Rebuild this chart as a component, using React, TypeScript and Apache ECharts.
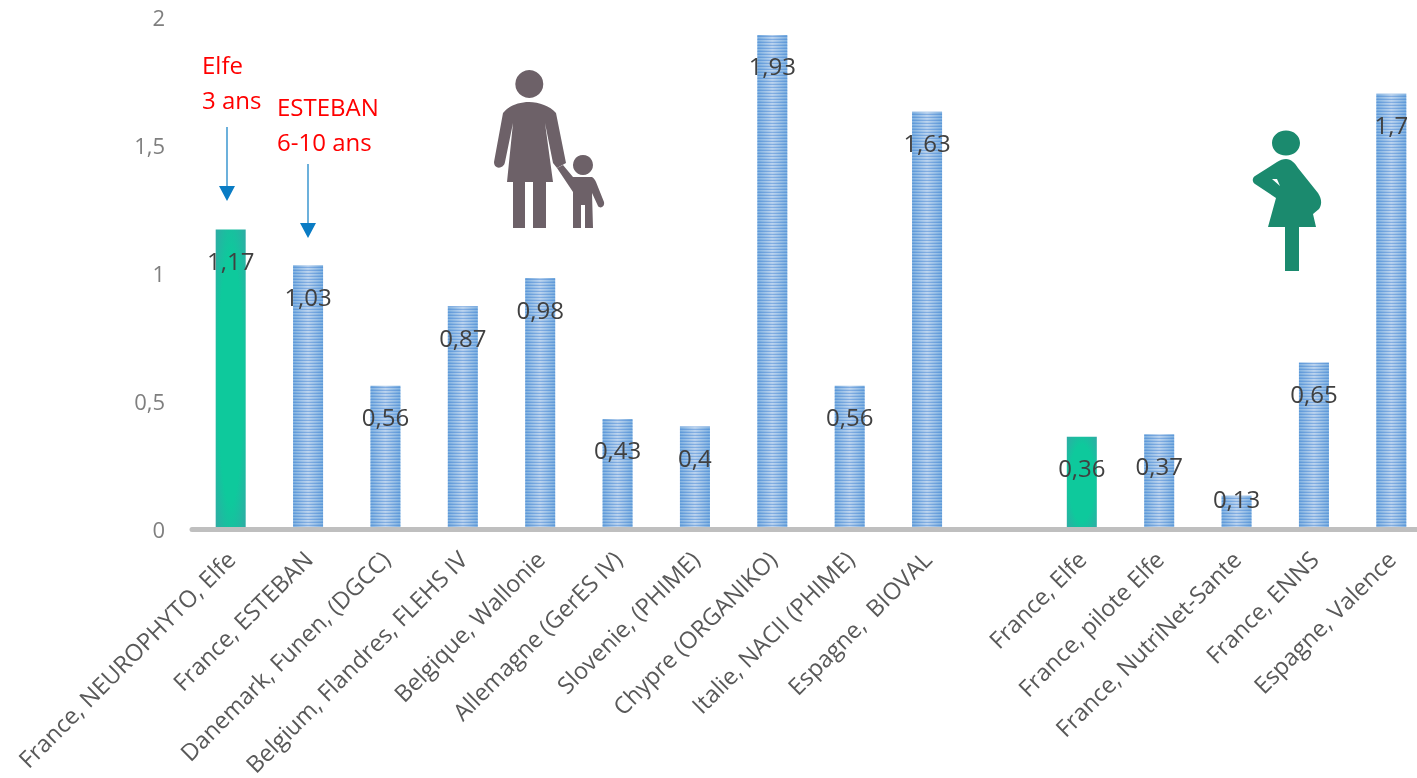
import React, { useEffect, useRef } from "react";
import * as echarts from "echarts";

const categories = [
  "France, NEUROPHYTO, Elfe", "France, ESTEBAN", "Danemark, Funen, (DGCC)", "Belgium, Flandres, FLEHS IV",
  "Belgique, Wallonie", "Allemagne (GerES IV)", "Slovenie, (PHIME)", "Chypre (ORGANIKO)", "Italie, NACII (PHIME)",
  "Espagne,  BIOVAL", "", "France, Elfe", "France, pilote Elfe", "France, NutriNet-Sante", "France, ENNS", "Espagne, Valence",
];
const values: (number | null)[] = [1.17, 1.03, 0.56, 0.87, 0.98, 0.43, 0.4, 1.93, 0.56, 1.63, null, 0.36, 0.37, 0.13, 0.65, 1.7];
const greenBars = [0, 11];
const yTicks = { min: 0, max: 2, interval: 0.5 };

const MOTHER = "M529.3 70a14 14 0 1 1-.01 0ZM529 102C539 102 550 106 556 113L566 163L557 168L553 163L545 123L553 182L546 182L546 228L533 228L533 182L525 182L525 228L513 228L513 182L507 182L513 123L505 162C504 169 494 170 494 162L503 113C508 106 519 102 529 102Z";
const CHILD = "M583 155a10 10 0 1 1-.01 0ZM557 168L563 165L573 177L592 177C594 178 595 180 596 182L604 202C605 207 600 209 598 206L592 193L593 228L585 228L585 205L581 205L581 228L573 228L573 192Z";
const PREGNANT = "M1286 130.500C1294 130.500 1300 136 1300 143C1300 150 1294 155.500 1286 155.500C1278 155.500 1272 150 1272 143C1272 136 1278 130.500 1286 130.500ZM1286 159C1291 159 1295 163 1298 168L1318 193C1322 199 1322 205 1319 209L1313 214L1316 227L1299 227L1299 271L1285 271L1285 227L1268 227L1276 198L1255 184C1252 182 1252 178 1255 176L1277 162C1280 160 1283 159 1286 159ZM1272 179L1280 186L1277 179Z";

function stripeTile(): HTMLCanvasElement {
  const c = document.createElement("canvas");
  c.width = 4;
  c.height = 3;
  const ctx = c.getContext("2d")!;
  ctx.fillStyle = "rgba(66,130,212,0.42)";
  ctx.fillRect(0, 0, 4, 1);
  ctx.fillStyle = "rgba(255,255,255,0.15)";
  ctx.fillRect(0, 1, 4, 1);
  return c;
}

export default function App() {
  const ref = useRef<HTMLDivElement>(null);
  useEffect(() => {
    echarts.graphic.registerShape("mother", echarts.graphic.extendPath(MOTHER, {}) as any);
    echarts.graphic.registerShape("child", echarts.graphic.extendPath(CHILD, {}) as any);
    echarts.graphic.registerShape("pregnant", echarts.graphic.extendPath(PREGNANT, {}) as any);
    const chart = echarts.init(ref.current!, undefined, { renderer: "svg" });
    const hGrad = (edge: string, mid: string) => ({
      type: "linear", x: 0, y: 0, x2: 1, y2: 0,
      colorStops: [{ offset: 0, color: edge }, { offset: 0.5, color: mid }, { offset: 1, color: edge }],
    });
    const rGrad = (edge: string, mid: string) => ({
      type: "radial", x: 0.5, y: 0.5, r: 0.75,
      colorStops: [{ offset: 0, color: mid }, { offset: 0.55, color: mid }, { offset: 1, color: edge }],
    });
    const font = "'Open Sans', sans-serif";
    const arrow = (x: number, y1: number, y2: number) => [
      { type: "line", shape: { x1: x, y1, x2: x, y2: y2 - 12 }, style: { stroke: "#0a7cc4", lineWidth: 1.2 } },
      { type: "polygon", shape: { points: [[x - 8, y2 - 15], [x + 8, y2 - 15], [x, y2]] }, style: { fill: "#0a7cc4" } },
    ];
    const redText = (x: number, y: number, text: string) => ({
      type: "text", x, y,
      style: { text, fill: "#ff0000", font: `24px ${font}`, lineHeight: 35 },
    });
    chart.setOption({
      animation: false,
      grid: { left: 192, top: 17, width: 1238, height: 512, outerBoundsMode: "none" },
      xAxis: {
        type: "category",
        data: categories,
        z: 5,
        axisLine: { show: true, lineStyle: { color: "#bfbfbf", width: 5 } },
        axisTick: { show: false },
        axisLabel: { interval: 0, rotate: 45, margin: 26, color: "#595959", fontSize: 23.5, fontFamily: font },
      },
      yAxis: {
        type: "value",
        min: yTicks.min,
        max: yTicks.max,
        interval: yTicks.interval,
        axisLine: { show: false },
        axisTick: { show: false },
        splitLine: { show: false },
        axisLabel: {
          margin: 27, color: "#7f7f7f", fontSize: 22, fontFamily: font,
          formatter: (v: number) => String(v).replace(".", ","),
        },
      },
      series: [
        {
          type: "bar",
          barWidth: 30,
          data: values.map((v, i) => ({
            value: v,
            itemStyle: {
              color: greenBars.includes(i) ? rGrad("#35a6a6", "#0ec99c") : hGrad("#6ea6dc", "#b2cdec"),
            },
          })),
        },
        {
          type: "bar",
          barWidth: 30,
          barGap: "-100%",
          data: values.map((v, i) => ({
            value: v,
            itemStyle: greenBars.includes(i)
              ? { color: "rgba(255,255,255,0)" }
              : { color: { image: stripeTile(), repeat: "repeat" } },
            label: {
              show: true,
              position: "insideTop",
              distance: v === 0.13 ? -9 : 19,
              formatter: () => String(v).replace(".", ","),
              color: "#404040",
              fontSize: 24,
              fontFamily: font,
            },
          })),
        },
      ],
      graphic: [
        redText(202, 47, "Elfe\n3 ans"),
        redText(277, 89, "ESTEBAN\n6-10 ans"),
        ...arrow(227, 127, 201),
        ...arrow(308, 164, 238),
        { type: "mother", style: { fill: "#6d6168" } },
        { type: "child", style: { fill: "#6d6168" } },
        { type: "pregnant", style: { fill: "#1b8a6e" } },
      ],
    });
    return () => chart.dispose();
  }, []);
  return (
    <div style={{ position: "fixed", left: 0, top: 0, width: 1417, height: 778, overflow: "hidden" }}>
      <div ref={ref} style={{ width: 1430, height: 778 }} />
    </div>
  );
}
